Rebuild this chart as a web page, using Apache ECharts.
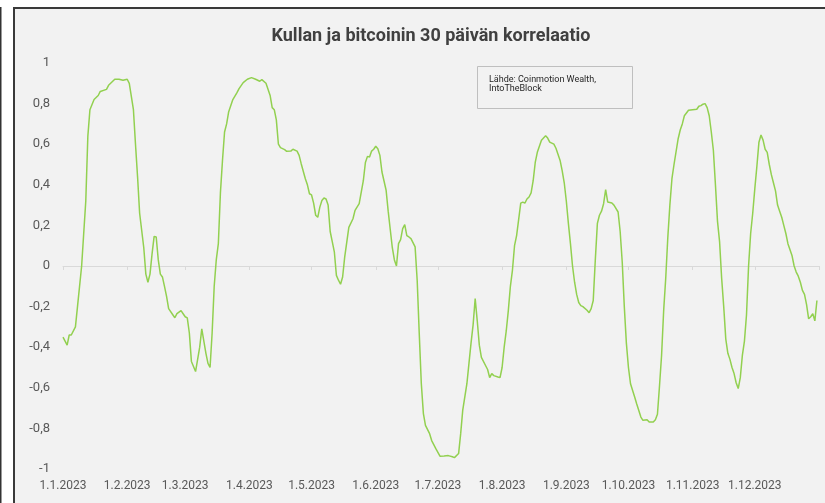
<!DOCTYPE html>
<html>
<head>
<meta charset="utf-8">
<script src="https://cdn.jsdelivr.net/npm/echarts@6/dist/echarts.min.js"></script>
<style>
  html, body { margin: 0; padding: 0; background: #fff; }
  #chart { width: 825px; height: 503px; }
</style>
</head>
<body>
<div id="chart"></div>
<script>
// month start positions (day index from 1.1.2023) and their labels
const monthStarts = [0, 31, 59, 90, 120, 151, 181, 212, 243, 273, 304, 334];
const monthLabels = ['1.1.2023', '1.2.2023', '1.3.2023', '1.4.2023', '1.5.2023', '1.6.2023',
  '1.7.2023', '1.8.2023', '1.9.2023', '1.10.2023', '1.11.2023', '1.12.2023'];
const dayCount = 366; // 1.1.2023 .. 1.1.2024 (axis end)

// day index of each reading
const dayIndex = [0,2,3,4,6,7,9,10,11,12,13,15,16,17,18,21,22,24,25,27,29,31,32,34,35,36,37,39,40,41,42,43,44,45,46,47,48,49,50,51,53,54,55,57,58,59,60,61,62,64,66,67,69,70,71,72,73,74,75,76,77,78,79,80,82,84,85,87,89,91,93,95,96,98,100,101,102,103,104,105,107,108,110,111,113,114,115,117,118,119,120,121,122,123,124,125,126,127,128,129,130,131,132,133,134,135,136,138,140,141,143,145,146,147,148,149,150,151,152,153,154,156,157,158,159,160,161,162,163,164,165,166,167,168,170,171,172,173,174,175,177,178,180,182,184,186,188,189,191,192,193,195,196,197,198,199,200,201,202,204,205,206,207,208,210,211,212,213,214,215,216,217,218,219,220,221,222,223,224,225,226,227,228,229,230,231,233,234,235,237,238,240,241,242,243,244,245,246,247,248,249,250,251,253,254,255,256,257,258,259,260,261,262,263,265,266,268,269,270,271,272,273,274,276,277,279,280,282,283,285,286,287,288,289,290,291,292,293,294,295,297,298,299,300,302,304,306,307,308,309,310,311,312,313,314,315,316,317,318,319,320,321,322,323,324,325,326,327,328,329,330,331,332,333,334,335,336,337,338,339,340,341,342,343,344,345,346,347,348,349,350,351,352,353,354,355,356,357,358,359,360,361,362,363,364];

// 30 day correlation gold vs bitcoin
const correlation = [-0.35,-0.39,-0.34,-0.34,-0.30,-0.20,0.00,0.16,0.32,0.64,0.77,0.82,0.83,0.84,0.86,0.87,0.89,0.91,0.92,0.92,0.915,0.92,0.90,0.77,0.60,0.44,0.26,0.09,-0.04,-0.08,-0.04,0.06,0.146,0.143,0.03,-0.04,-0.054,-0.10,-0.15,-0.21,-0.24,-0.255,-0.235,-0.22,-0.235,-0.25,-0.256,-0.33,-0.47,-0.52,-0.40,-0.31,-0.43,-0.48,-0.50,-0.33,-0.10,0.03,0.11,0.36,0.52,0.66,0.70,0.76,0.82,0.854,0.874,0.903,0.92,0.928,0.92,0.91,0.918,0.90,0.84,0.78,0.77,0.72,0.60,0.583,0.573,0.565,0.566,0.575,0.566,0.545,0.504,0.43,0.40,0.356,0.35,0.31,0.25,0.24,0.29,0.323,0.335,0.33,0.30,0.17,0.12,0.07,-0.046,-0.07,-0.09,-0.054,0.044,0.19,0.233,0.274,0.307,0.42,0.51,0.54,0.537,0.566,0.575,0.59,0.578,0.545,0.463,0.373,0.27,0.18,0.09,0.03,0.0,0.11,0.13,0.184,0.204,0.15,0.143,0.135,0.094,-0.07,-0.333,-0.58,-0.727,-0.785,-0.826,-0.86,-0.90,-0.937,-0.936,-0.934,-0.94,-0.944,-0.924,-0.826,-0.71,-0.58,-0.48,-0.38,-0.29,-0.16,-0.27,-0.39,-0.45,-0.49,-0.51,-0.55,-0.53,-0.54,-0.547,-0.55,-0.50,-0.40,-0.32,-0.22,-0.10,-0.02,0.10,0.15,0.23,0.31,0.315,0.31,0.33,0.34,0.36,0.42,0.51,0.56,0.59,0.62,0.642,0.63,0.61,0.60,0.58,0.52,0.47,0.41,0.32,0.21,0.11,0.00,-0.08,-0.14,-0.18,-0.195,-0.20,-0.218,-0.23,-0.21,-0.17,0.03,0.21,0.25,0.27,0.307,0.376,0.315,0.31,0.30,0.266,0.17,0.02,-0.20,-0.38,-0.50,-0.58,-0.645,-0.68,-0.744,-0.76,-0.757,-0.768,-0.768,-0.757,-0.73,-0.59,-0.44,-0.22,-0.06,0.14,0.30,0.43,0.50,0.627,0.67,0.70,0.74,0.767,0.77,0.772,0.787,0.79,0.797,0.80,0.78,0.74,0.66,0.57,0.40,0.22,0.12,-0.06,-0.20,-0.36,-0.43,-0.46,-0.50,-0.53,-0.575,-0.604,-0.55,-0.44,-0.37,-0.24,0.00,0.16,0.26,0.38,0.49,0.61,0.645,0.62,0.575,0.56,0.50,0.45,0.41,0.37,0.30,0.27,0.24,0.20,0.16,0.11,0.08,0.05,0.00,-0.03,-0.05,-0.08,-0.12,-0.14,-0.19,-0.26,-0.25,-0.235,-0.27,-0.17];

var chart = echarts.init(document.getElementById('chart'));

let cats = [];
for (let i = 0; i < dayCount; i++) cats.push(String(i));
let seriesData = dayIndex.map((d, i) => [d, correlation[i]]);

option = {
  backgroundColor: '#fff',
  textStyle: { fontFamily: 'Roboto' },
  title: {
    text: 'Kullan ja bitcoinin 30 päivän korrelaatio',
    left: 426,
    top: 22,
    textAlign: 'center',
    textStyle: {
      color: '#404040',
      fontSize: 18,
      fontWeight: 'bold',
      fontFamily: 'Roboto'
    }
  },
  graphic: [
    { // left edge line
      type: 'rect', z: 0,
      shape: { x: 0, y: 7, width: 1.5, height: 500 },
      style: { fill: '#333' }
    },
    { // chart frame
      type: 'rect', z: 0,
      shape: { x: 14, y: 8, width: 900, height: 600 },
      style: { fill: '#f2f2f2', stroke: '#3a3a3a', lineWidth: 2 }
    },
    { // source box
      type: 'rect', z: 50,
      shape: { x: 477.5, y: 66.5, width: 155, height: 42 },
      style: { fill: '#f2f2f2', stroke: '#bfbfbf', lineWidth: 1 }
    },
    {
      type: 'text', z: 51, left: 489, top: 75,
      style: {
        text: 'Lähde: Coinmotion Wealth,\nIntoTheBlock',
        fill: '#262626',
        font: '9px Roboto',
        lineHeight: 9
      }
    }
  ],
  grid: {
    left: 63,
    right: 6,
    top: 63,
    bottom: 34,
    containLabel: false,
    outerBoundsMode: 'none'
  },
  xAxis: [
    { // labels at the bottom
      type: 'category',
      data: cats,
      boundaryGap: false,
      position: 'bottom',
      axisLine: { show: false, onZero: false },
      axisTick: { show: false },
      splitLine: { show: false },
      axisLabel: {
        color: '#595959',
        fontSize: 12,
        margin: 11,
        interval: function (index) {
          return monthStarts.indexOf(index) >= 0;
        },
        formatter: function (value, index) {
          let m = monthStarts.indexOf(+value);
          return m >= 0 ? monthLabels[m] : '';
        }
      }
    },
    { // axis line and ticks on zero
      type: 'category',
      data: cats,
      boundaryGap: false,
      position: 'bottom',
      axisLine: { show: true, onZero: true, lineStyle: { color: '#d9d9d9', width: 1 } },
      axisTick: {
        show: true,
        length: 4,
        lineStyle: { color: '#d9d9d9' },
        interval: function (index) {
          return monthStarts.indexOf(index) >= 0 || index === dayCount - 1;
        }
      },
      axisLabel: { show: false },
      splitLine: { show: false }
    }
  ],
  yAxis: {
    type: 'value',
    min: -1,
    max: 1,
    interval: 0.2,
    axisLine: { show: false },
    axisTick: { show: false },
    splitLine: { show: false },
    axisLabel: {
      color: '#595959',
      fontSize: 13,
      margin: 13,
      formatter: function (v) {
        return String(+v.toFixed(1)).replace('.', ',');
      }
    }
  },
  series: [{
    name: 'Korrelaatio',
    type: 'line',
    xAxisIndex: 0,
    showSymbol: false,
    smooth: false,
    lineStyle: { color: '#92d050', width: 1.5 },
    itemStyle: { color: '#92d050' },
    data: seriesData
  }]
};

chart.setOption(option);
</script>
</body>
</html>
